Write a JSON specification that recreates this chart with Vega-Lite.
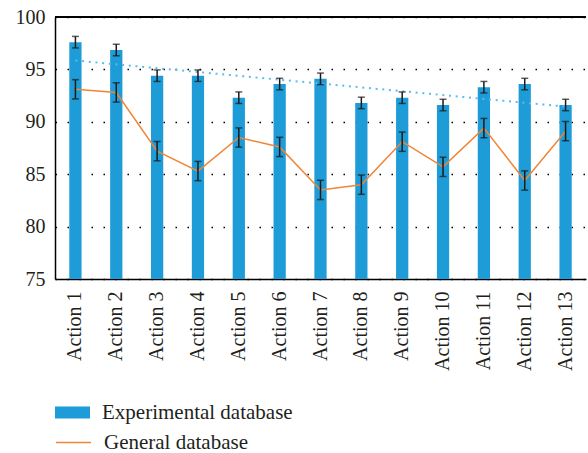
{
  "$schema": "https://vega.github.io/schema/vega-lite/v6.json",
  "width": 531,
  "height": 262,
  "autosize": {"type": "none"},
  "padding": {"left": 55, "top": 17, "right": 2, "bottom": 174},
  "config": {
    "view": {"stroke": null},
    "font": "'Liberation Serif', 'DejaVu Serif', serif",
    "legend": {"orient": "none", "labelFont": "'Liberation Serif', 'DejaVu Serif', serif", "labelFontSize": 21, "labelColor": "#231F20", "labelOffset": 12, "labelLimit": 400, "title": null},
    "axis": {"labelFont": "'Liberation Serif', 'DejaVu Serif', serif"}
  },
  "data": {
    "values": [
      {"action": "Action 1", "exp": 97.6, "expErr": 0.55, "gen": 93.1, "genErr": 0.92},
      {"action": "Action 2", "exp": 96.85, "expErr": 0.55, "gen": 92.8, "genErr": 0.92},
      {"action": "Action 3", "exp": 94.4, "expErr": 0.55, "gen": 87.2, "genErr": 0.92},
      {"action": "Action 4", "exp": 94.4, "expErr": 0.55, "gen": 85.3, "genErr": 0.92},
      {"action": "Action 5", "exp": 92.3, "expErr": 0.55, "gen": 88.5, "genErr": 0.92},
      {"action": "Action 6", "exp": 93.6, "expErr": 0.55, "gen": 87.6, "genErr": 0.92},
      {"action": "Action 7", "exp": 94.1, "expErr": 0.55, "gen": 83.5, "genErr": 0.92},
      {"action": "Action 8", "exp": 91.8, "expErr": 0.55, "gen": 84.0, "genErr": 0.92},
      {"action": "Action 9", "exp": 92.3, "expErr": 0.55, "gen": 88.1, "genErr": 0.92},
      {"action": "Action 10", "exp": 91.6, "expErr": 0.55, "gen": 85.7, "genErr": 0.92},
      {"action": "Action 11", "exp": 93.3, "expErr": 0.55, "gen": 89.4, "genErr": 0.92},
      {"action": "Action 12", "exp": 93.6, "expErr": 0.55, "gen": 84.4, "genErr": 0.92},
      {"action": "Action 13", "exp": 91.6, "expErr": 0.55, "gen": 89.1, "genErr": 0.92}
    ]
  },
  "layer": [
    {
      "mark": {"type": "bar", "clip": true},
      "encoding": {
        "x": {
          "field": "action", "type": "nominal", "sort": null,
          "scale": {"paddingInner": 0.7, "paddingOuter": 0.35},
          "axis": {"title": null, "labelAngle": -90, "labelFontSize": 20, "labelColor": "#231F20", "ticks": false, "labelPadding": 12, "domainColor": "#000000", "domainWidth": 1.5, "grid": false}
        },
        "y": {
          "field": "exp", "type": "quantitative",
          "scale": {"domain": [75, 100], "zero": false, "nice": false},
          "axis": {"title": null, "values": [75, 80, 85, 90, 95, 100], "ticks": false, "labelFontSize": 20, "labelColor": "#231F20", "labelPadding": 10, "domainColor": "#000000", "domainWidth": 1.5, "grid": true, "gridColor": "#000000", "gridDash": [1.5, 10.5], "gridWidth": 1.5, "zindex": 0}
        },
        "fill": {
          "datum": "Experimental database",
          "scale": {"range": ["#1E9CD7"]},
          "legend": {"symbolType": "M-1,-0.343H1V0.343H-1Z", "symbolSize": 1225, "symbolStrokeWidth": 0, "legendX": 0, "legendY": 378}
        }
      }
    },
    {
      "data": {"values": [{"action": "Action 1", "trend": 95.85}, {"action": "Action 13", "trend": 91.45}]},
      "mark": {"type": "line", "color": "#5BBDEB", "strokeWidth": 2, "strokeDash": [2, 4.7]},
      "encoding": {
        "x": {"field": "action", "type": "nominal", "sort": null},
        "y": {"field": "trend", "type": "quantitative"}
      }
    },
    {
      "data": {"values": [{"top": 100}]},
      "mark": {"type": "rule", "color": "#000000", "strokeWidth": 2},
      "encoding": {"y": {"field": "top", "type": "quantitative"}}
    },
    {
      "mark": {"type": "line", "strokeWidth": 1.5},
      "encoding": {
        "x": {"field": "action", "type": "nominal", "sort": null},
        "y": {"field": "gen", "type": "quantitative"},
        "stroke": {
          "datum": "General database",
          "scale": {"range": ["#F08536"]},
          "legend": {"symbolType": "stroke", "symbolSize": 1225, "symbolStrokeWidth": 1.5, "legendX": 0, "legendY": 407}
        }
      }
    },
    {
      "mark": {"type": "errorbar", "color": "#1A1A1A", "thickness": 1.5, "ticks": {"size": 7, "thickness": 1.5}},
      "encoding": {
        "x": {"field": "action", "type": "nominal", "sort": null},
        "y": {"field": "exp", "type": "quantitative"},
        "yError": {"field": "expErr"}
      }
    },
    {
      "mark": {"type": "errorbar", "color": "#1A1A1A", "thickness": 1.5, "ticks": {"size": 7, "thickness": 1.5}},
      "encoding": {
        "x": {"field": "action", "type": "nominal", "sort": null},
        "y": {"field": "gen", "type": "quantitative"},
        "yError": {"field": "genErr"}
      }
    }
  ]
}
